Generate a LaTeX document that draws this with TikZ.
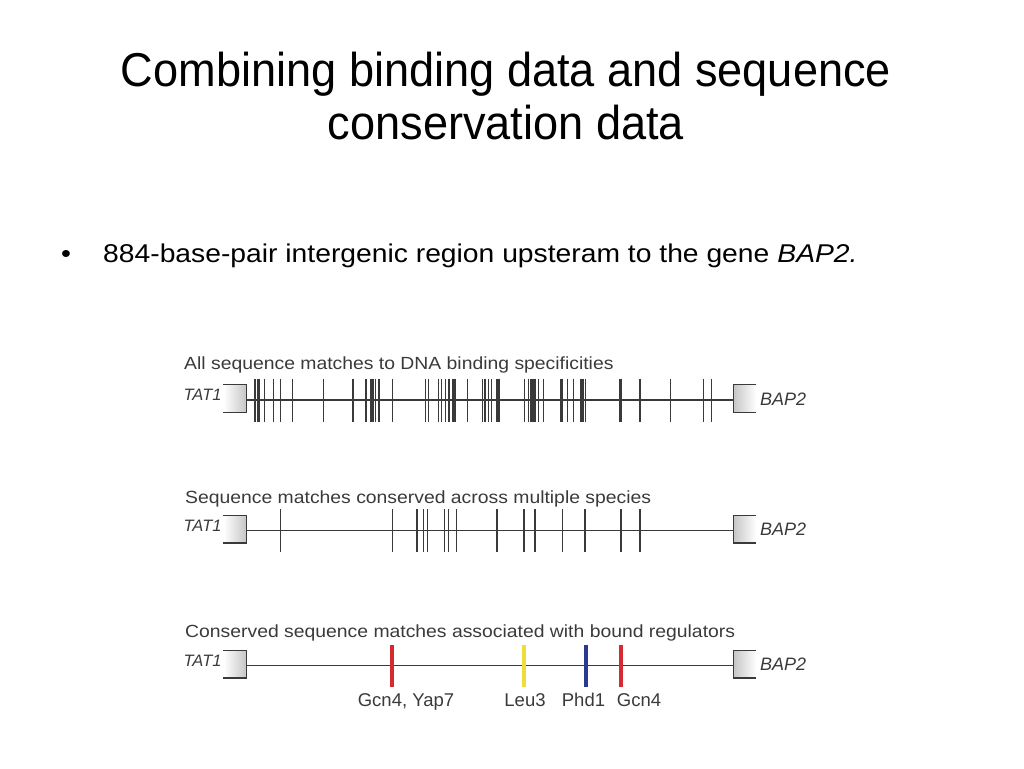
\documentclass[tikz,border=0pt]{standalone}
\usepackage{fontspec}
\setmainfont{Liberation Sans}
\newfontfamily\titlefont[FakeStretch=0.95]{Liberation Sans}
\newfontfamily\widefont[FakeStretch=1.1]{Liberation Sans}
\usetikzlibrary{positioning}

\definecolor{figgray}{HTML}{3A3A3A}
\definecolor{bindred}{HTML}{D42A30}
\definecolor{bindyellow}{HTML}{EEDD3A}
\definecolor{bindblue}{HTML}{2A3A8E}

\begin{document}
\begin{tikzpicture}[x=1pt,y=-1pt,
    title/.style={font=\titlefont\fontsize{47.5}{55}\selectfont, anchor=base, inner sep=0pt},
    bullettext/.style={font=\widefont\fontsize{25.7}{31}\selectfont, anchor=base west, inner sep=0pt},
    tracktitle/.style={font=\widefont\fontsize{17.6}{21}\selectfont, text=figgray, anchor=base west, inner sep=0pt},
    genename/.style={font=\itshape, text=figgray, inner sep=0pt},
    genebox/.style={minimum width=22.7pt, minimum height=27pt, inner sep=0pt, yshift=1.5pt},
    bracket/.style={figgray, line width=1.2pt},
    backbone/.style={figgray, line width=1.2pt},
    tick/.style={figgray, line width=1.3pt},
    thicktick/.style={figgray, line width=2.4pt},
    bar/.style={line width=4pt},
    barlabel/.style={font=\fontsize{18.5}{22}\selectfont, text=figgray, anchor=base, inner sep=0pt}
  ]
    \useasboundingbox (0,0) rectangle (1024,768);

    % Titel
    \node[title] (title1) at (506,86)  {Combining binding data and sequence};
    \node[title] (title2) at (506,139) {conservation data};

    % Aufzaehlung
    \node[bullettext, anchor=base] (dot) at (66,262) {•};
    \node[bullettext] (item) at (103,262) {884-base-pair intergenic region upsteram to the gene \textit{BAP2.}};

    % Spur 1: alle Treffer
    \node[tracktitle] (head1) at (184,369) {All sequence matches to DNA binding specificities};
    \coordinate (s1) at (246.5,400);
    \coordinate (e1) at (733.3,400);
    \node[genebox, anchor=east, left color=white, right color=gray!45] (tatA) at (s1) {};
    \node[genebox, anchor=west, left color=gray!45, right color=white] (bapA) at (e1) {};
    \draw[bracket] (tatA.north west) -- (tatA.north east) -- (tatA.south east) -- (tatA.south west);
    \draw[bracket] (bapA.north east) -- (bapA.north west) -- (bapA.south west) -- (bapA.south east);
    \node[genename, font=\itshape\fontsize{16.5}{20}\selectfont, anchor=base east] (tatAname) at (221.7,400) {TAT1};
    \node[genename, font=\itshape\fontsize{18}{21}\selectfont, anchor=base west] (bapAname) at (760,405) {BAP2};
    \draw[backbone] (s1) -- (e1);
    \foreach \x in {264.5,273.5,280.5,292.5,323.5,353,366,371,373,375.5,392.5,425.5,428.5,438.5,441.5,445.5,449,455.5,467.5,482.5,485,488.5,491.5,497,499,524.5,528.5,531,533,535,538.5,543.5,562.5,567.5,573.5,581,583,585.5,640,670.5,703.5,711.5}
        \draw[tick] (\x,378.5) -- (\x,421.5);
    \foreach \x in {255,258.5,379,453.5,561,620.5}
        \draw[thicktick] (\x,378.5) -- (\x,421.5);

    % Spur 2: konservierte Treffer
    \node[tracktitle] (head2) at (185,503) {Sequence matches conserved across multiple species};
    \coordinate (s2) at (246.5,530.7);
    \coordinate (e2) at (733.3,530.7);
    \node[genebox, anchor=east, left color=white, right color=gray!45] (tatB) at (s2) {};
    \node[genebox, anchor=west, left color=gray!45, right color=white] (bapB) at (e2) {};
    \draw[bracket] (tatB.north west) -- (tatB.north east) -- (tatB.south east) -- (tatB.south west);
    \draw[bracket] (bapB.north east) -- (bapB.north west) -- (bapB.south west) -- (bapB.south east);
    \node[genename, font=\itshape\fontsize{16.5}{20}\selectfont, anchor=base east] (tatBname) at (221.7,531.7) {TAT1};
    \node[genename, font=\itshape\fontsize{18}{21}\selectfont, anchor=base west] (bapBname) at (760,535.7) {BAP2};
    \draw[backbone] (s2) -- (e2);
    \foreach \x in {280.5,392.5,417,423.5,427.5,444.5,448.5,456.5,497,524,535,562.5,585,621,640}
        \draw[tick] (\x,509.2) -- (\x,552.2);

    % Spur 3: gebundene Regulatoren
    \node[tracktitle] (head3) at (185,637) {Conserved sequence matches associated with bound regulators};
    \coordinate (s3) at (246.5,665.7);
    \coordinate (e3) at (733.3,665.7);
    \node[genebox, anchor=east, left color=white, right color=gray!45] (tatC) at (s3) {};
    \node[genebox, anchor=west, left color=gray!45, right color=white] (bapC) at (e3) {};
    \draw[bracket] (tatC.north west) -- (tatC.north east) -- (tatC.south east) -- (tatC.south west);
    \draw[bracket] (bapC.north east) -- (bapC.north west) -- (bapC.south west) -- (bapC.south east);
    \node[genename, font=\itshape\fontsize{16.5}{20}\selectfont, anchor=base east] (tatCname) at (221.7,666.7) {TAT1};
    \node[genename, font=\itshape\fontsize{18}{21}\selectfont, anchor=base west] (bapCname) at (760,670.7) {BAP2};
    \draw[backbone] (s3) -- (e3);
    \draw[bar, bindred]    (392.3,644.5) -- (392.3,686.7);
    \draw[bar, bindyellow] (524.3,644.5) -- (524.3,686.7);
    \draw[bar, bindblue]   (585.7,644.5) -- (585.7,686.7);
    \draw[bar, bindred]    (621,644.5)   -- (621,686.7);

    % Namen der Regulatoren
    \node[barlabel] (gcnyap) at (406,706)   {Gcn4, Yap7};
    \node[barlabel] (leu)    at (525,706)   {Leu3};
    \node[barlabel] (phd)    at (583.5,706) {Phd1};
    \node[barlabel] (gcn)    at (639,706)   {Gcn4};
\end{tikzpicture}
\end{document}
